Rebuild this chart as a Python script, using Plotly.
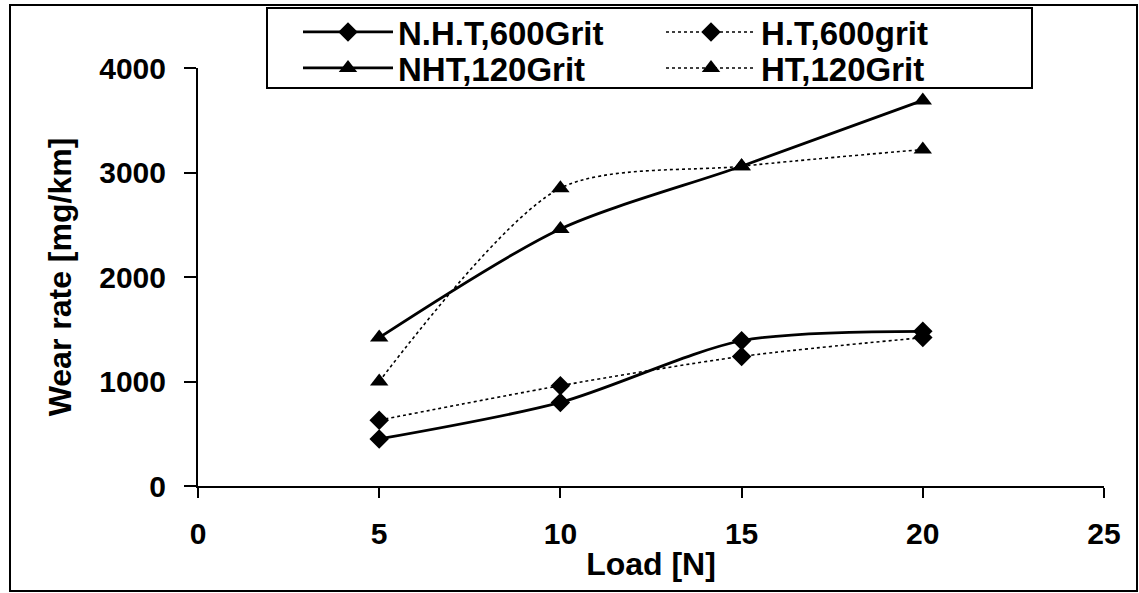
import plotly.graph_objects as go

# Wear rate vs. applied load for heat-treated / non-heat-treated samples
load = [5, 10, 15, 20]
nht_600 = [450, 800, 1390, 1480]
ht_600 = [630, 960, 1240, 1420]
nht_120 = [1420, 2460, 3060, 3690]
ht_120 = [1000, 2850, 3060, 3220]

x_ticks = [0, 5, 10, 15, 20, 25]
y_ticks = [0, 1000, 2000, 3000, 4000]

W, H = 1139, 593
L, R, T, B = 198, 35, 68, 107
PW, PH = W - L - R, H - T - B


def px_x(px):
    return (px - L) / PW


def px_y(py):
    return (H - B - py) / PH


FONT = "Liberation Sans, Arial, sans-serif"

# name, values, dash, width, symbol, marker size, legend row
series = [
    ("N.H.T,600Grit", nht_600, "solid", 2.8, "diamond", 15, "legend"),
    ("H.T,600grit", ht_600, "dot", 1.6, "diamond", 15, "legend"),
    ("NHT,120Grit", nht_120, "solid", 2.8, "triangle-up", 16, "legend2"),
    ("HT,120Grit", ht_120, "dot", 1.6, "triangle-up", 16, "legend2"),
]

fig = go.Figure()
for name, vals, dash, lw, sym, ms, leg in series:
    fig.add_trace(go.Scatter(
        x=load, y=vals, name=name, mode="lines+markers", legend=leg,
        line=dict(color="black", width=lw, dash=dash, shape="spline", smoothing=0.8),
        marker=dict(symbol=sym, size=ms, color="black"),
    ))

legend_style = dict(
    orientation="h", xanchor="left", yanchor="middle",
    entrywidth=258, entrywidthmode="pixels",
    borderwidth=0, bgcolor="rgba(0,0,0,0)",
    font=dict(family=FONT, size=33, weight="bold"),
    itemwidth=90,
)

fig.update_layout(
    width=W, height=H,
    margin=dict(l=L, r=R, t=T, b=B, autoexpand=False),
    paper_bgcolor="white", plot_bgcolor="white",
    font=dict(family=FONT, color="black", size=30),
    showlegend=True,
    legend=dict(x=px_x(298), y=px_y(32), **legend_style),
    legend2=dict(x=px_x(298), y=px_y(68), **legend_style),
    shapes=[
        # outer frame
        dict(type="rect", xref="paper", yref="paper",
             x0=px_x(10), x1=px_x(1137), y0=px_y(591), y1=px_y(5),
             line=dict(color="black", width=2), layer="below"),
        # legend frame
        dict(type="rect", xref="paper", yref="paper",
             x0=px_x(267), x1=px_x(1032), y0=px_y(88), y1=px_y(8),
             line=dict(color="black", width=2), fillcolor="white", layer="below"),
    ],
)

fig.update_xaxes(
    range=[0, 25], tickvals=x_ticks, ticktext=[str(v) for v in x_ticks],
    showgrid=False, zeroline=False,
    showline=True, linecolor="black", linewidth=2,
    ticks="outside", ticklen=10, tickwidth=2, tickcolor="black",
    ticklabelstandoff=10,
    tickfont=dict(family=FONT, size=30, weight="bold"),
    title=dict(text="Load [N]", standoff=4,
               font=dict(family=FONT, size=32, weight="bold")),
)
fig.update_yaxes(
    range=[0, 4000], tickvals=y_ticks, ticktext=[str(v) for v in y_ticks],
    showgrid=False, zeroline=False,
    showline=True, linecolor="black", linewidth=2,
    ticks="outside", ticklen=12, tickwidth=2, tickcolor="black",
    ticklabelstandoff=12,
    tickfont=dict(family=FONT, size=30, weight="bold"),
    title=dict(text="Wear rate [mg/km]", standoff=18,
               font=dict(family=FONT, size=32, weight="bold")),
)

fig.write_html("out.html")
